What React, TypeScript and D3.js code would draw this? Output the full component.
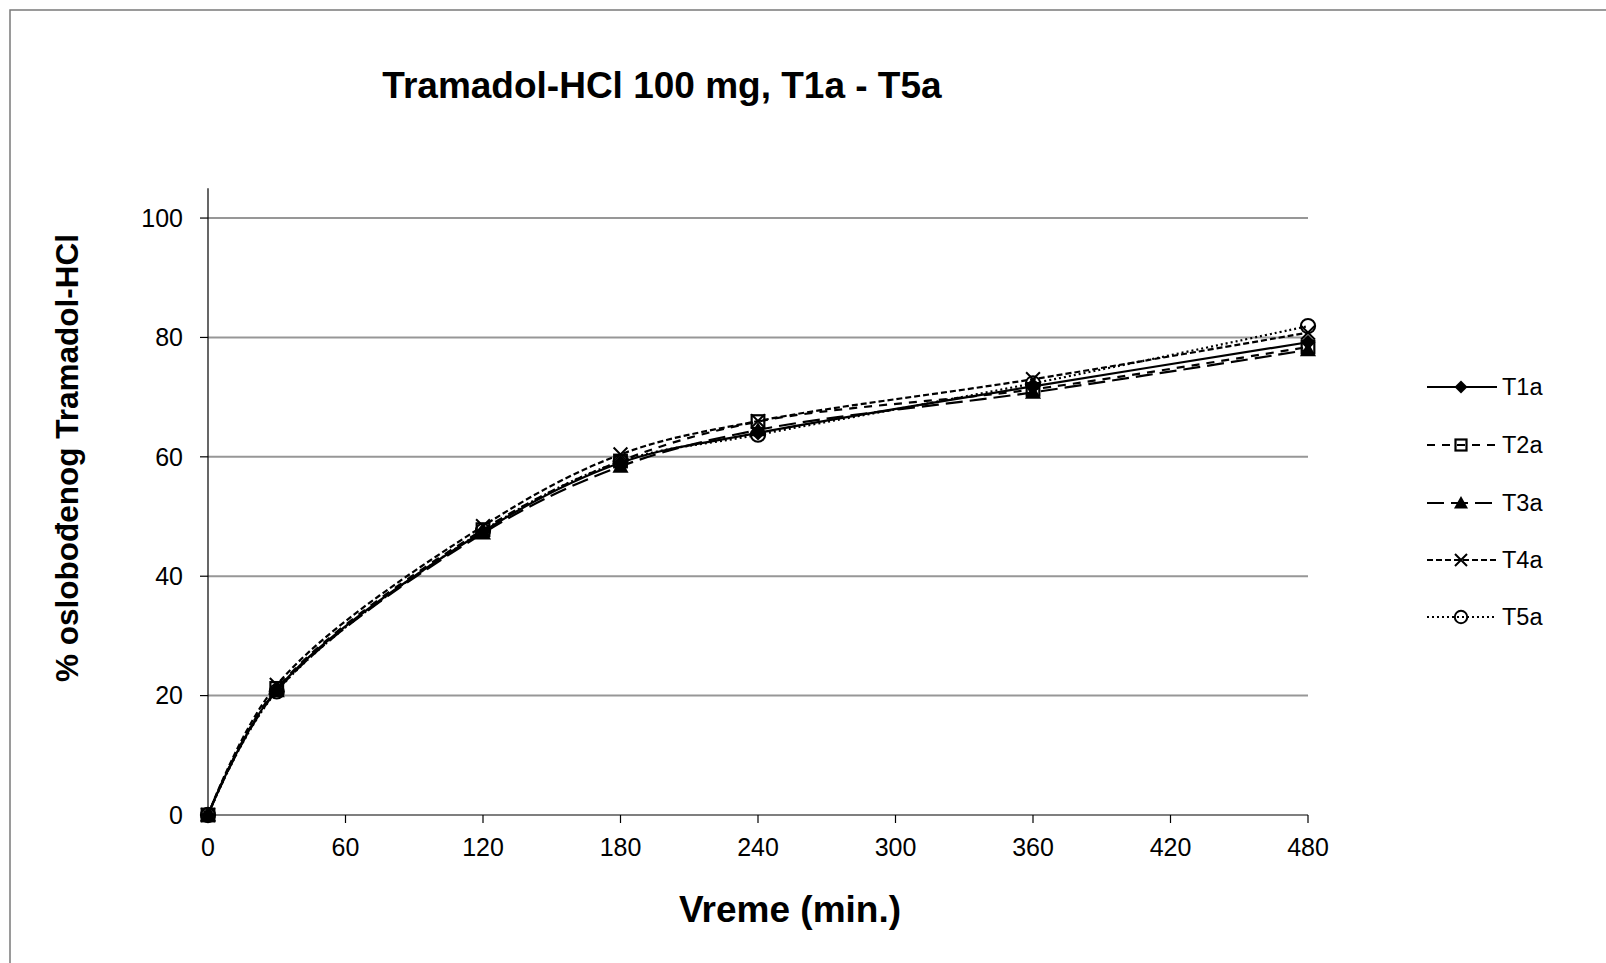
import React from "react";
import * as d3 from "d3";

const times = [0, 30, 120, 180, 240, 360, 480];
const seriesNames = ["T1a", "T2a", "T3a", "T4a", "T5a"];
const T1a = [0, 21.0, 47.5, 59.0, 64.0, 71.8, 79.2];
const T2a = [0, 21.2, 47.8, 59.3, 65.9, 71.3, 78.4];
const T3a = [0, 20.8, 47.2, 58.4, 64.5, 70.8, 77.9];
const T4a = [0, 21.8, 48.4, 60.4, 66.0, 73.0, 80.8];
const T5a = [0, 20.7, 47.6, 59.2, 63.7, 72.3, 81.9];
const seriesValues = [T1a, T2a, T3a, T4a, T5a];
const xTicks = [0, 60, 120, 180, 240, 300, 360, 420, 480];
const yTicks = [0, 20, 40, 60, 80, 100];

const title = "Tramadol-HCl 100 mg, T1a - T5a";
const xTitle = "Vreme (min.)";
const yTitle = "% oslobođenog Tramadol-HCl";

const dashes = [null, "8,7", "17,7", "6,3", "2,3"];
const markers = ["diamond", "square", "triangle", "x", "circle"];

const FONT = "'Liberation Sans', Arial, sans-serif";

function Marker({ type, x, y, big }: { type: string; x: number; y: number; big: boolean }) {
  const k = big ? 1.15 : 1;
  const s = 6.5 * k;
  if (type === "diamond")
    return <path d={`M${x},${y - s}L${x + s},${y}L${x},${y + s}L${x - s},${y}Z`} fill="#000" />;
  if (type === "square")
    return (
      <rect x={x - 5.5 * k} y={y - 5.5 * k} width={11 * k} height={11 * k} fill="none" stroke="#000" strokeWidth={2.2} />
    );
  if (type === "triangle")
    return <path d={`M${x},${y - 7 * k}L${x + 7 * k},${y + 5.5 * k}L${x - 7 * k},${y + 5.5 * k}Z`} fill="#000" />;
  if (type === "x")
    return (
      <path
        d={`M${x - 6 * k},${y - 6 * k}L${x + 6 * k},${y + 6 * k}M${x - 6 * k},${y + 6 * k}L${x + 6 * k},${y - 6 * k}`}
        stroke="#000"
        strokeWidth={2}
      />
    );
  return <circle cx={x} cy={y} r={6.2 * k} fill="none" stroke="#000" strokeWidth={2} />;
}

export default function App() {
  const W = 1606, H = 963;
  const x = d3.scaleLinear().domain([0, 480]).range([208, 1308]);
  const y = d3.scaleLinear().domain([0, 105]).range([815, 188.2]);
  const line = d3
    .line<number>()
    .x((_, i) => x(times[i]))
    .y((d) => y(d))
    .curve(d3.curveCatmullRom.alpha(0.5));

  const legendRows = [387, 445, 503, 560, 617];

  return (
    <div style={{ position: "fixed", left: 0, top: 0 }}>
      <svg width={W} height={H} style={{ display: "block", background: "#fff" }} fontFamily={FONT}>
        <rect x={0} y={0} width={W} height={H} fill="#fff" />
        <rect x={10} y={10} width={W + 20} height={H + 20} fill="none" stroke="#7a7a7a" strokeWidth={1.5} />

        {yTicks.filter((t) => t > 0).map((t) => (
          <line key={t} x1={x(0)} x2={x(480)} y1={y(t)} y2={y(t)} stroke="#979797" strokeWidth={2} />
        ))}

        <line x1={x(0)} x2={x(0)} y1={y(105)} y2={y(0)} stroke="#000" strokeWidth={1.2} />
        <line x1={x(0)} x2={x(480)} y1={y(0)} y2={y(0)} stroke="#000" strokeWidth={1.2} />
        {yTicks.map((t) => (
          <g key={t}>
            <line x1={x(0) - 8} x2={x(0)} y1={y(t)} y2={y(t)} stroke="#000" strokeWidth={1.2} />
            <text x={183} y={y(t)} dy="0.35em" textAnchor="end" fontSize={25} fill="#000">
              {t}
            </text>
          </g>
        ))}
        {xTicks.map((t) => (
          <g key={t}>
            <line x1={x(t)} x2={x(t)} y1={y(0)} y2={y(0) + 8} stroke="#000" strokeWidth={1.2} />
            <text x={x(t)} y={856} textAnchor="middle" fontSize={25} fill="#000">
              {t}
            </text>
          </g>
        ))}

        {seriesValues.map((vals, si) => (
          <path
            key={si}
            d={line(vals) || ""}
            fill="none"
            stroke="#000"
            strokeWidth={2.2}
            strokeDasharray={dashes[si] || undefined}
          />
        ))}
        {seriesValues.map((vals, si) => (
          <g key={"m" + si}>
            {vals.map((v, i) => (
              <Marker key={i} type={markers[si]} x={x(times[i])} y={y(v)} big={true} />
            ))}
          </g>
        ))}

        <text x={662} y={98} textAnchor="middle" fontSize={37} fontWeight="bold" fill="#000">
          {title}
        </text>
        <text x={790} y={922} textAnchor="middle" fontSize={37} fontWeight="bold" fill="#000">
          {xTitle}
        </text>
        <text
          transform="translate(78,458) rotate(-90)"
          textAnchor="middle"
          fontSize={31.5}
          fontWeight="bold"
          fill="#000"
        >
          {yTitle}
        </text>

        {seriesNames.map((n, si) => (
          <g key={n}>
            <line
              x1={1427}
              x2={1497}
              y1={legendRows[si]}
              y2={legendRows[si]}
              stroke="#000"
              strokeWidth={2.2}
              strokeDasharray={dashes[si] || undefined}
            />
            <Marker type={markers[si]} x={1461} y={legendRows[si]} big={false} />
            <text x={1502} y={legendRows[si]} dy="0.35em" fontSize={23.5} fill="#000">
              {n}
            </text>
          </g>
        ))}
      </svg>
    </div>
  );
}
